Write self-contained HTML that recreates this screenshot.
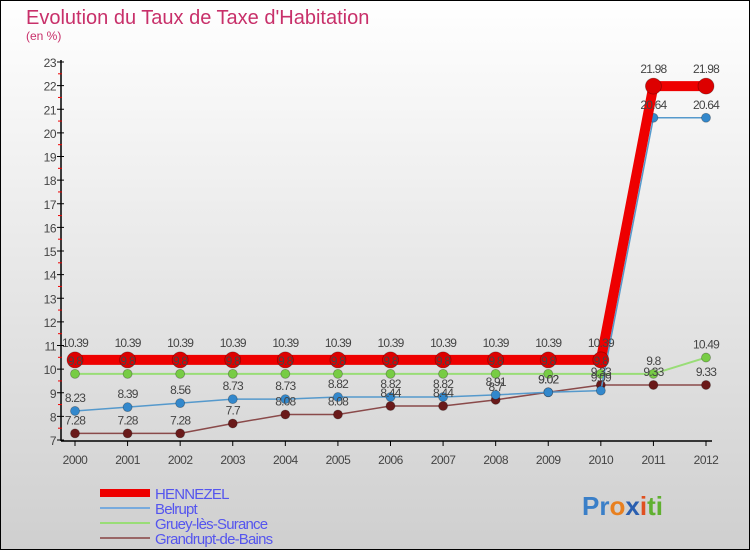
<!DOCTYPE html>
<html><head><meta charset="utf-8"><style>
html,body{margin:0;padding:0;}
body{width:750px;height:550px;overflow:hidden;font-family:"Liberation Sans",sans-serif;}
svg{display:block;}
</style></head><body>
<svg id="chart" width="750" height="550" xmlns="http://www.w3.org/2000/svg">
<defs><linearGradient id="bg" x1="0" y1="0" x2="0" y2="1"><stop offset="0" stop-color="#ffffff"/><stop offset="1" stop-color="#cfcfcf"/></linearGradient></defs>
<rect x="0.5" y="0.5" width="749" height="549" fill="url(#bg)" stroke="#000"/>
<text x="26" y="24" font-size="20" fill="#c8306a">Evolution du Taux de Taxe d'Habitation</text>
<text x="26" y="40" font-size="12" fill="#c8306a">(en %)</text>
<g id="axes"></g><g id="series"></g><g id="labels"></g>
<g id="legend"></g>
<text x="582" y="515" font-size="26" font-weight="bold"><tspan fill="#3a7fc8">Pr</tspan><tspan fill="#e88020">o</tspan><tspan fill="#2a5fb0">x</tspan><tspan fill="#e05020">i</tspan><tspan fill="#60b030">ti</tspan></text>
</svg>
<script>
const years=[2000,2001,2002,2003,2004,2005,2006,2007,2008,2009,2010,2011,2012];
const yTicks=[7,8,9,10,11,12,13,14,15,16,17,18,19,20,21,22,23];
const seriesNames=["HENNEZEL","Belrupt","Gruey-lès-Surance","Grandrupt-de-Bains"];
const hennezel=[10.39,10.39,10.39,10.39,10.39,10.39,10.39,10.39,10.39,10.39,10.39,21.98,21.98];
const belrupt=[8.23,8.39,8.56,8.73,8.73,8.82,8.82,8.82,8.91,9.02,9.09,20.64,20.64];
const gruey=[9.8,9.8,9.8,9.8,9.8,9.8,9.8,9.8,9.8,9.8,9.8,9.8,10.49];
const grandrupt=[7.28,7.28,7.28,7.7,8.08,8.08,8.44,8.44,8.7,9.02,9.33,9.33,9.33];
const NS="http://www.w3.org/2000/svg";
const x=i=>75+i*(706-75)/(years.length-1);
const y=v=>440-(v-7)*(440-62)/16;
function mk(tag,attrs,parent,txt){const e=document.createElementNS(NS,tag);for(const k in attrs)e.setAttribute(k,attrs[k]);if(txt!==undefined)e.textContent=txt;parent.appendChild(e);return e;}
const ax=document.getElementById('axes');
let e=mk('line',{x1:61,y1:60,x2:61,y2:441,stroke:'#000','stroke-width':1.5},ax);

e=mk('line',{x1:61,y1:441,x2:712,y2:441,stroke:'#000','stroke-width':1.5},ax);

yTicks.forEach(t=>{
 mk('line',{x1:57,y1:y(t),x2:64,y2:y(t),stroke:'#000'},ax);
 if(t<23)mk('line',{x1:58,y1:y(t+0.5),x2:62,y2:y(t+0.5),stroke:'#e00'},ax);
 e=mk('text',{x:56,y:y(t)+5,'text-anchor':'end','font-size':12,fill:'#444','letter-spacing':'-0.5'},ax,t);
 
});
years.forEach((yr,i)=>{
 mk('line',{x1:x(i),y1:441,x2:x(i),y2:446,stroke:'#000'},ax);
 e=mk('text',{x:x(i),y:464,'text-anchor':'middle','font-size':12,fill:'#444','letter-spacing':'-0.5'},ax,yr);
 
});
const sg=document.getElementById('series'),lg=document.getElementById('labels');
const defs=[
 {d:grandrupt,c:'#8a4a4a',pc:'#6a1a1a',w:1.5,r:4.5,n:'grandrupt'},
 {d:gruey,c:'#99dd77',pc:'#77cc44',w:2,r:4.5,n:'gruey'},
 {d:belrupt,c:'#5599cc',pc:'#3388cc',w:1.5,r:4.5,n:'belrupt'},
 {d:hennezel,c:'#ee0000',pc:'#dd0000',w:10,r:8,n:'hennezel'}
];
defs.forEach(s=>{
 e=mk('polyline',{points:s.d.map((v,i)=>x(i)+','+y(v)).join(' '),fill:'none',stroke:s.c,'stroke-width':s.w,'stroke-linejoin':'round'},sg);
 
 s.d.forEach((v,i)=>{
  e=mk('circle',{cx:x(i),cy:y(v),r:s.r,fill:s.pc,stroke:'rgba(0,0,0,0.3)','stroke-width':0.8},sg);
  
  e=mk('text',{x:x(i),y:y(v)-(s.n==='hennezel'?13:9),'text-anchor':'middle','font-size':12,fill:'#444','letter-spacing':'-0.8'},lg,v);
  
 });
});
const leg=document.getElementById('legend');
const legC=['#ee0000','#77aadd','#99dd77','#996666'],legW=[8,2,2,2];
seriesNames.forEach((n,i)=>{
 const ly=493+i*15;
 e=mk('line',{x1:100,y1:ly,x2:150,y2:ly,stroke:legC[i],'stroke-width':legW[i]},leg);
 
 e=mk('text',{x:155,y:ly+6,'font-size':15,fill:'#5555ee','letter-spacing':'-0.8'},leg,n);
 
});
</script>
</body></html>
